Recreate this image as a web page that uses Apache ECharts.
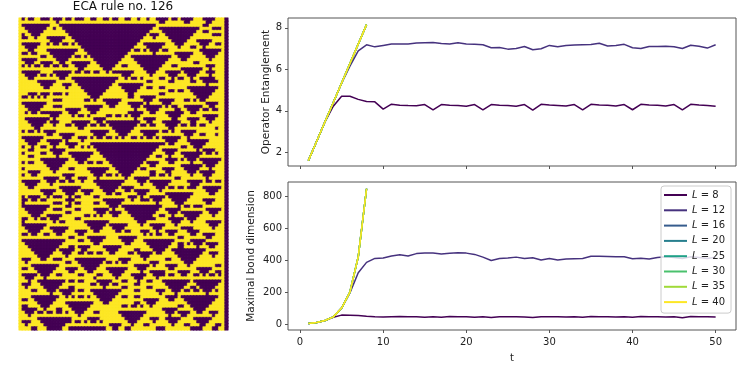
<!DOCTYPE html>
<html>
<head>
<meta charset="utf-8">
<style>
  html, body { margin: 0; padding: 0; background: #fff; }
  #chart { width: 747px; height: 374px; }
</style>
<script src="https://cdn.jsdelivr.net/npm/echarts@6/dist/echarts.min.js"></script>
</head>
<body>
<div id="chart"></div>
<script>
// dark cell ranges per row (row 0 at the top, 67 columns)
const darkRuns = [
  '1 3-4 7-9 11-13 15-16 18-20 23-24 27-28 30-31 34-35 38 41 44-47 49-50 52-55 59-62 66',
  '12 45-46 53-54 60-61 66',
  '1-9 13-43 59-60 66',
  '2-8 11 14-42 45-57 62-64 66',
  '3-7 15-41 46-56 59-60 66',
  '1 4-6 16-40 42-44 47-55 62-64 66',
  '1-2 5 9-14 17-39 43 48-54 66',
  '10-13 18-38 49-53 57-61 66',
  '1-6 9 11-12 14-15 17 19-37 40-46 50-52 58-60 63-64 66',
  '2-5 20-36 41-45 51 55-56 59 66',
  '3-4 9-18 21-35 37-38 40 42-44 46-47 58-64 66',
  '1-2 4-5 10-17 22-34 43 50-55 59-63 66',
  '7-8 11-16 18-19 21 23-33 36-48 51-54 60-62 66',
  '1-5 12-15 24-32 37-47 52-53 61 66',
  '2-4 7-10 13-14 17-22 25-31 38-46 56-57 66',
  '1 3 5-6 8-9 11-12 14-15 18-21 26-30 33-34 39-45 49-50 60-62 66',
  '19-20 27-29 40-44 52-58 61 66',
  '1-6 11-16 18-19 21-22 24-25 28 30-31 32-36 41-43 47-51 53-57 60-62 66',
  '2-5 7-8 10 12-15 33-35 42 48-50 54-56 61 66',
  '3-4 13-14 17-31 34 36-37 39 45-46 49 51-52 55 58-62 66',
  '6-11 18-30 41-42 48-49 55-56 59-61 62-63 66',
  '7-10 14-16 19-29 32-39 60 66',
  '8-9 15 20-28 33-38 41-42 45-46 54-63 66',
  '21-27 34-37 48-49 51-52 55-62 66',
  '3-5 7-9 11-13 15 22-26 35-36 45-46 56-61 66',
  '1-2 4 6 8 23-25 35-36 39-43 57-60 66',
  '11-13 21-22 24 27-32 40-42 45-49 53-54 56 58-59 66',
  '1-8 28-31 35-39 41 46-48 60-63 66',
  '2-7 11-13 21-26 29-30 36-38 40-45 47 49-50 53-58 61-62 66',
  '3-6 15-19 22-25 37 41-44 50-51 54-57 59-60 62-63 66',
  '2 4-5 7-8 9-13 16-18 23-24 35-39 42-43 47-52 55-56 66',
  '10-12 17 19-20 22 28-29 31-32 34 36-38 48-51 59-63 66',
  '2-9 11 24-27 37 40-43 49-50 54-57 60-62 66',
  '3-8 10-12 17-22 25-26 28-38 41-42 46-51 55-56 61 66',
  '4-7 11 15-16 18-21 23-24 26-27 29-37 39-40 42-43 47-50 52-53 55-56 58-59 66',
  '5-6 19-20 30-36 48-49 63 66',
  '1 3-4 6 8-11 23-28 31-35 39-44 46-47 49 52-56 66',
  '9-10 13-17 24-27 32-34 40-43 53-55 58-59 63 66',
  '1-7 14-16 19-21 23 25-26 28-29 31 33 36-37 39 41-42 44 46-51 54 66',
  '2-6 9-13 15 20 47-50 54-60 66',
  '3-5 10-12 15-18 23-45 46 48-49 55-59 66',
  '1 4 7-8 11 16-17 20 22 24-44 52-53 56-58 66',
  '3-4 10-14 25-43 46-50 57 59-62 66',
  '1 7-8 11-13 16-23 26-42 47-49 52-58 60-61 63 66',
  '3-4 12 17-22 27-41 44-45 48 53-57 66',
  '7-15 18-21 28-40 47-50 52 54-56 58-64 66',
  '1 3-4 8-14 19-20 22-23 25-26 29-39 41-44 48-49 55 59-63 66',
  '9-13 30-38 42-43 52-58 60-62 66',
  '1 10-12 16-17 22-28 31-37 39-40 46-49 53-57 61 66',
  '3-6 11 23-27 32-36 42-43 47-48 54-56 58-62 66',
  '1 4-5 14-17 24-26 28-29 31 33-35 42-43 45-46 48 55 59-61 66',
  '8-12 15-16 19-21 25 34 37-41 50-51 60 66',
  '1-6 9-11 13-14 16-17 20 24-33 38-40 42-48 54-58 60-61 63-64 66',
  '2-5 10 25-32 39 43-47 55-57 66',
  '3-4 13-19 26-31 33-36 44-46 48-49 51-52 54-55 56 59-64 66',
  '7-11 14-18 20-23 27-30 34-35 37-41 45 60-63 66',
  '8-10 15-17 21-22 28-29 31-32 38-40 47-55 61-62 66',
  '1 3-6 9 11-13 16 18-19 24-25 35-37 39 42-46 48-54 66',
  '1-2 4-5 7-8 15-17 27-33 36 39-41 43-45 49-53 59-62 66',
  '1 11-13 16 18-19 24-25 28-32 44 50-52 60-61 66',
  '1-9 15-16 29-31 33-45 51 53-54 56 57-58 66',
  '2-8 11-13 18-19 24-28 30 34-44 47-51 60-64 66',
  '3-7 15-16 25-27 29-32 35-43 48-50 52-58 61-63 66',
  '4-6 9-13 21-22 24 26 30-31 36-42 45-46 49 53-57 62 66',
  '1-2 5 7-8 10-12 18-19 37-41 42-43 48-52 54-56 66',
  '1 11 13-14 21-28 38-40 49-51 55 60-64 66',
  '1-8 22-27 29-34 39 42-46 50 61-63 66',
  '2-7 10-15 23-26 30-33 43-45 52-55 62 66',
  '3-6 11-14 18-21 24-25 31-32 34-35 39-41 44 47-50 54-57 66',
  '1-2 4-5 8-9 12-13 19-20 40 42 44-45 48-49 55-56 59-62 66',
  '16-17 22-27 32-37 51-52 60-61 66',
  '1-14 19-20 23-26 33-36 40-49 55-59 66',
  '2-13 24-25 34-35 41-48 51-52 54 56-58 60-63 66',
  '3-12 16-17 19-22 27-32 42-47 51-52 57 61-62 66',
  '4-11 13-17 20-21 28-31 37-38 43-46 49-59 66',
  '5-10 14-16 19-20 22-23 25-26 29-30 35-36 38-42 44-45 50-58 61-63 66',
  '6-9 15 39-41 51-57 62 66',
  '1-3 7-8 11-13 18-27 32-35 40 47-48 52-56 66',
  '2 15-16 19-26 28-29 31 33-34 42-44 53-55 66',
  '4-12 20-25 37-41 43 47-50 54 63-64 66',
  '1-2 5-11 15-18 21-24 28-34 38-40 48-49 57-61 66',
  '6-10 16-17 22-23 29-33 39 42-46 51-54 58-60 63-64 66',
  '1-5 7-9 12-13 19-20 25-26 30-32 36-40 43-45 46 48-49 52-53 56-57 59 61-62 64 66',
  '2-4 8 24 31 37-39 44 66',
  '3 6-14 16-17 19-20 25-29 33-34 38 41-42 46-54 56-64 66',
  '1-3 7-13 23-24 26-28 30-31 37-38 47-53 57-63 66',
  '2 8-12 16-17 27 33-34 41-42 48-52 55-56 58-62 66',
  '4-5 9-11 13-17 19-20 23-32 37-38 44-46 49-51 53-54 56-57 59-61 63 66',
  '10 14-16 24-31 45 50 60 66',
  '4-12 15 17 19-20 22 25-30 33-34 37-38 47-50 52-63 66',
  '1-2 5-11 26-29 40-44 48-49 53-62 66',
  '6-10 15-23 27-28 37-38 41-43 54-61 66',
  '1-2 7-9 16-22 33-34 36-37 39 42 51-52 55-60 66',
  '1-5 8 12-13 17-21 46-50 56-59 66',
  '2-4 6-7 9-10 12-13 15 18-20 24-25 32-40 47-49 51-54 57-58 61-63 66',
  '3 19 33-39 48 52-53 62 66',
  '6-16 22-25 34-38 42-44 47-51 56-61 66',
  '1-3 7-15 16 18-19 21 23-24 26 35-37 43 48-50 57-60 66',
  '2 8-14 29-32 36 40-41 49 53-54 58-59 63-64 66',
  '4-5 9-13 16-27 30-31 34-35 44-46 55-58 62-63 66'
]
const columnCount = 67

const tSteps = [1, 2, 3, 4, 5, 6, 7, 8, 9, 10, 11, 12, 13, 14, 15, 16, 17, 18, 19, 20, 21, 22, 23, 24, 25,
  26, 27, 28, 29, 30, 31, 32, 33, 34, 35, 36, 37, 38, 39, 40, 41, 42, 43, 44, 45, 46, 47, 48, 49, 50]

const entanglementL8 = [1.6, 2.53, 3.47, 4.22, 4.7, 4.7, 4.55, 4.45, 4.43, 4.08, 4.32, 4.27, 4.25, 4.24, 4.3, 4.04, 4.3,
  4.27, 4.25, 4.22, 4.3, 4.04, 4.3, 4.27, 4.25, 4.22, 4.3, 4.03, 4.31, 4.28, 4.26, 4.23, 4.3, 4.04, 4.31, 4.28, 4.27,
  4.23, 4.3, 4.05, 4.31, 4.28, 4.27, 4.23, 4.3, 4.04, 4.31, 4.28, 4.26, 4.22]
const entanglementL12 = [1.6, 2.53, 3.47, 4.4, 5.33, 6.15, 6.89, 7.18, 7.08, 7.15, 7.22, 7.22, 7.22, 7.26, 7.28, 7.29, 7.24,
  7.22, 7.28, 7.22, 7.2, 7.18, 7.04, 7.05, 6.97, 7.0, 7.1, 6.94, 6.99, 7.15, 7.08, 7.14, 7.17, 7.18, 7.19, 7.25, 7.12,
  7.15, 7.2, 7.04, 7.0, 7.1, 7.1, 7.11, 7.09, 7.0, 7.16, 7.11, 7.02, 7.18]
const entanglementLarge = [1.6, 2.53, 3.47, 4.4, 5.34, 6.28, 7.21, 8.15]

const bondL8 = [4, 10, 22, 42, 56, 55, 53, 49, 46, 44, 46, 47, 45, 45, 43, 46, 42, 47, 46, 45, 43, 46, 41, 46, 46,
  45, 44, 41, 46, 46, 45, 44, 46, 42, 47, 46, 45, 44, 46, 42, 47, 46, 45, 44, 46, 40, 47, 46, 45, 44]
const bondL12 = [4, 10, 22, 45, 100, 195, 320, 385, 410, 412, 425, 433, 425, 440, 444, 443, 438, 442, 445, 443, 435, 418,
  397, 410, 412, 418, 410, 414, 400, 410, 400, 406, 408, 410, 423, 424, 422, 420, 420, 408, 411, 406, 416, 420, 416,
  410, 420, 415, 410, 418]
const bondLarge = [4, 10, 22, 45, 100, 200, 420, 845]

const systemSizes = [8, 12, 16, 20, 25, 30, 35, 40]
const viridisColors = ['#440154', '#46327e', '#365c8d', '#277f8e', '#1fa187', '#4ac16d', '#a0da39', '#fde725']

const xTicks = [0, 10, 20, 30, 40, 50]
const entanglementTicks = [2, 4, 6, 8]
const bondTicks = [0, 200, 400, 600, 800]

const FONT = 'DejaVu Sans'
const SPINE = '#555'

const heatCells = []
darkRuns.forEach((line, row) => {
  const cells = new Array(columnCount).fill(1)
  line.split(' ').forEach(part => {
    const [from, to] = part.split('-').map(Number)
    for (let c = from; c <= (to === undefined ? from : to); c++) cells[c] = 0
  })
  // thin border in the cell's own colour closes the seams between cells
  cells.forEach((v, col) => heatCells.push({
    value: [col, row, v],
    itemStyle: { borderWidth: 0.5, borderColor: v ? viridisColors[7] : viridisColors[0] }
  }))
})

const pairs = (values) => values.map((v, i) => [tSteps[i], v])

const lineSeries = (gridIndex, small, medium, large) => systemSizes.map((size, i) => ({
  name: 'L = ' + size,
  type: 'line',
  xAxisIndex: gridIndex,
  yAxisIndex: gridIndex,
  data: pairs(i === 0 ? small : i === 1 ? medium : large),
  symbol: 'none',
  silent: true,
  color: viridisColors[i],
  lineStyle: { color: viridisColors[i], width: 1.5 },
  z: 2 + i
}))

const valueX = (gridIndex, labels) => ({
  type: 'value',
  gridIndex,
  min: -1.45,
  max: 52.45,
  name: labels ? 't' : '',
  nameLocation: 'middle',
  nameGap: 23,
  nameMoveOverlap: false,
  nameTextStyle: { fontFamily: FONT, fontSize: 10, color: '#222' },
  splitLine: { show: false },
  axisLine: { show: false, onZero: false },
  axisTick: { show: true, length: 3, customValues: xTicks, lineStyle: { color: SPINE } },
  axisLabel: { show: labels, customValues: xTicks, margin: 7, fontFamily: FONT, fontSize: 10, color: '#222' }
})

const valueY = (gridIndex, min, max, ticks, name, gap) => ({
  type: 'value',
  gridIndex,
  min,
  max,
  name,
  nameLocation: 'middle',
  nameGap: gap,
  nameMoveOverlap: false,
  nameTextStyle: { fontFamily: FONT, fontSize: 10.5, color: '#222' },
  splitLine: { show: false },
  axisLine: { show: false, onZero: false },
  axisTick: { show: true, length: 3, customValues: ticks, lineStyle: { color: SPINE } },
  axisLabel: { customValues: ticks, margin: 6, fontFamily: FONT, fontSize: 10, color: '#222' }
})

const chart = echarts.init(document.getElementById('chart'), null, { renderer: 'canvas' })

chart.setOption({
  animation: false,
  backgroundColor: '#fff',
  title: {
    text: 'ECA rule no. 126',
    left: 123,
    top: 1,
    padding: 0,
    textAlign: 'center',
    textStyle: { fontFamily: FONT, fontSize: 12, fontWeight: 'normal', color: '#111' }
  },
  grid: [
    { left: 288, top: 18, width: 448, height: 148, show: true, borderColor: SPINE, borderWidth: 1 },
    { left: 288, top: 182, width: 448, height: 148, show: true, borderColor: SPINE, borderWidth: 1 },
    { left: 19, top: 18, width: 209, height: 312 }
  ],
  xAxis: [
    valueX(0, false),
    valueX(1, true),
    { type: 'category', gridIndex: 2, show: false, data: Array.from({ length: columnCount }, (_, i) => i) }
  ],
  yAxis: [
    valueY(0, 1.34, 8.47, entanglementTicks, 'Operator Entanglement', 16),
    valueY(1, -37, 887, bondTicks, 'Maximal bond dimension', 31),
    { type: 'category', gridIndex: 2, show: false, inverse: true, data: darkRuns.map((_, i) => i) }
  ],
  visualMap: {
    show: false,
    type: 'continuous',
    seriesIndex: 0,
    min: 0,
    max: 1,
    inRange: { color: [viridisColors[0], viridisColors[7]] }
  },
  legend: {
    orient: 'vertical',
    left: 661,
    top: 186,
    padding: [4, 6, 6, 3],
    itemWidth: 23,
    itemHeight: 2,
    itemGap: 5.3,
    icon: 'rect',
    backgroundColor: 'rgba(255,255,255,0.8)',
    borderColor: '#ccc',
    borderWidth: 1,
    borderRadius: 3,
    data: systemSizes.map(s => 'L = ' + s),
    formatter: (name) => '{i|L} = ' + name.slice(4),
    textStyle: {
      fontFamily: FONT,
      fontSize: 10,
      color: '#222',
      rich: { i: { fontFamily: FONT, fontSize: 10, fontStyle: 'italic', color: '#222' } }
    }
  },
  series: [
    {
      type: 'heatmap',
      xAxisIndex: 2,
      yAxisIndex: 2,
      data: heatCells,
      progressive: 0,
      silent: true
    },
    ...lineSeries(0, entanglementL8, entanglementL12, entanglementLarge),
    ...lineSeries(1, bondL8, bondL12, bondLarge)
  ]
})
</script>
</body>
</html>
